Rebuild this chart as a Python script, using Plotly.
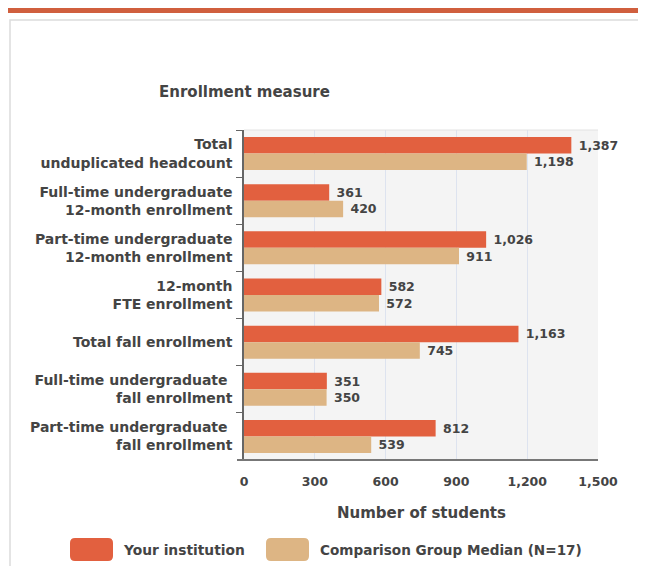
import plotly.graph_objects as go

categories = [
    'Total<br>unduplicated headcount',
    'Full-time undergraduate<br>12-month enrollment',
    'Part-time undergraduate<br>12-month enrollment',
    '12-month<br>FTE enrollment',
    'Total fall enrollment',
    'Full-time undergraduate <br>fall enrollment',
    'Part-time undergraduate <br>fall enrollment',
]
your_institution = [1387, 361, 1026, 582, 1163, 351, 812]
comparison_median = [1198, 420, 911, 572, 745, 350, 539]
x_ticks = [0, 300, 600, 900, 1200, 1500]
x_tick_labels = ['0', '300', '600', '900', '1,200', '1,500']

ORANGE = '#E2603F'
TAN = '#DDB584'
TEXT = '#444444'
FONT = 'DejaVu Sans'

# the page puts the figure 8px in from the window corner
OFF = 8
W, H = 646 - OFF, 566 - OFF
L, T = 244 - OFF, 130 - OFF
R, B = W - (598 - OFF), H - (460 - OFF)
PW, PH = W - L - R, H - T - B


def px(x):
    return (x - OFF - L) / PW


def py(y):
    return (H - B - (y - OFF)) / PH


def rounded_box(x0, y0, x1, y1, r, color):
    # rounded rectangle drawn in paper coords from reference pixel corners
    pts = (f'M {px(x0 + r)},{py(y0)} L {px(x1 - r)},{py(y0)} '
           f'Q {px(x1)},{py(y0)} {px(x1)},{py(y0 + r)} L {px(x1)},{py(y1 - r)} '
           f'Q {px(x1)},{py(y1)} {px(x1 - r)},{py(y1)} L {px(x0 + r)},{py(y1)} '
           f'Q {px(x0)},{py(y1)} {px(x0)},{py(y1 - r)} L {px(x0)},{py(y0 + r)} '
           f'Q {px(x0)},{py(y0)} {px(x0 + r)},{py(y0)} Z')
    return dict(type='path', xref='paper', yref='paper', path=pts,
                fillcolor=color, line=dict(width=0))


fig = go.Figure()
for name, vals, color in [('Your institution', your_institution, ORANGE),
                          ('Comparison Group Median (N=17)', comparison_median, TAN)]:
    fig.add_trace(go.Bar(
        y=categories,
        x=vals,
        name=name,
        orientation='h',
        marker=dict(color=color, line=dict(width=0)),
        texttemplate=' %{x:,}',
        textposition='outside',
        constraintext='none',
        cliponaxis=False,
        textfont=dict(family=FONT, size=12.5, color=TEXT, weight='bold'),
        showlegend=False,
    ))

shapes = [
    dict(type='rect', xref='paper', yref='paper', x0=px(8), x1=px(660), y0=py(8), y1=py(13),
         fillcolor='#D05F3E', line=dict(width=0), layer='below'),
    dict(type='rect', xref='paper', yref='paper', x0=px(10), x1=px(680), y0=py(20), y1=py(600),
         fillcolor='rgba(0,0,0,0)', line=dict(color='#dcdcdc', width=1.5), layer='below'),
    dict(type='line', xref='paper', yref='paper', x0=0, x1=1, y0=1, y1=1,
         line=dict(color='#e2e2e2', width=1)),
    dict(type='line', xref='paper', yref='paper', x0=px(237), x1=1, y0=0, y1=0,
         line=dict(color='#777', width=2)),
    rounded_box(70, 538, 113, 561, 5, ORANGE),
    rounded_box(266, 538, 309, 561, 5, TAN),
]

annotations = [
    dict(text='Enrollment measure', xref='paper', yref='paper', x=px(157), y=py(92),
         xanchor='left', yanchor='middle', showarrow=False,
         font=dict(family=FONT, size=15, color=TEXT, weight='bold')),
    dict(text='Number of students', xref='paper', yref='paper', x=px(421), y=py(513),
         xanchor='center', yanchor='middle', showarrow=False,
         font=dict(family=FONT, size=15, color=TEXT, weight='bold')),
    dict(text='Your institution', xref='paper', yref='paper', x=px(121), y=py(550),
         xanchor='left', yanchor='middle', showarrow=False,
         font=dict(family=FONT, size=13.8, color=TEXT, weight='bold')),
    dict(text='Comparison Group Median (N=17)', xref='paper', yref='paper', x=px(318), y=py(550),
         xanchor='left', yanchor='middle', showarrow=False,
         font=dict(family=FONT, size=13.6, color=TEXT, weight='bold')),
]

fig.update_layout(
    width=W,
    height=H,
    margin=dict(l=L, r=R, t=T, b=B, pad=0),
    barmode='group',
    bargap=0.3,
    bargroupgap=0,
    plot_bgcolor='#F4F4F4',
    paper_bgcolor='white',
    font=dict(family=FONT, size=13, color=TEXT),
    shapes=shapes,
    annotations=annotations,
    showlegend=False,
    xaxis=dict(
        range=[0, 1500],
        tickvals=x_ticks,
        ticktext=x_tick_labels,
        showgrid=True,
        gridcolor='#dde3ef',
        gridwidth=1,
        zeroline=False,
        showline=False,
        ticks='',
        ticklabelstandoff=12,
        tickfont=dict(family=FONT, size=12.5, color=TEXT, weight='bold'),
    ),
    yaxis=dict(
        autorange='reversed',
        showline=True,
        linecolor='#666',
        linewidth=1.5,
        ticks='outside',
        tickson='boundaries',
        ticklen=6,
        tickcolor='#666',
        showgrid=False,
        ticklabelstandoff=7,
        tickfont=dict(family=FONT, size=14, color=TEXT, weight='bold'),
    ),
)

fig.write_html('out.html')
